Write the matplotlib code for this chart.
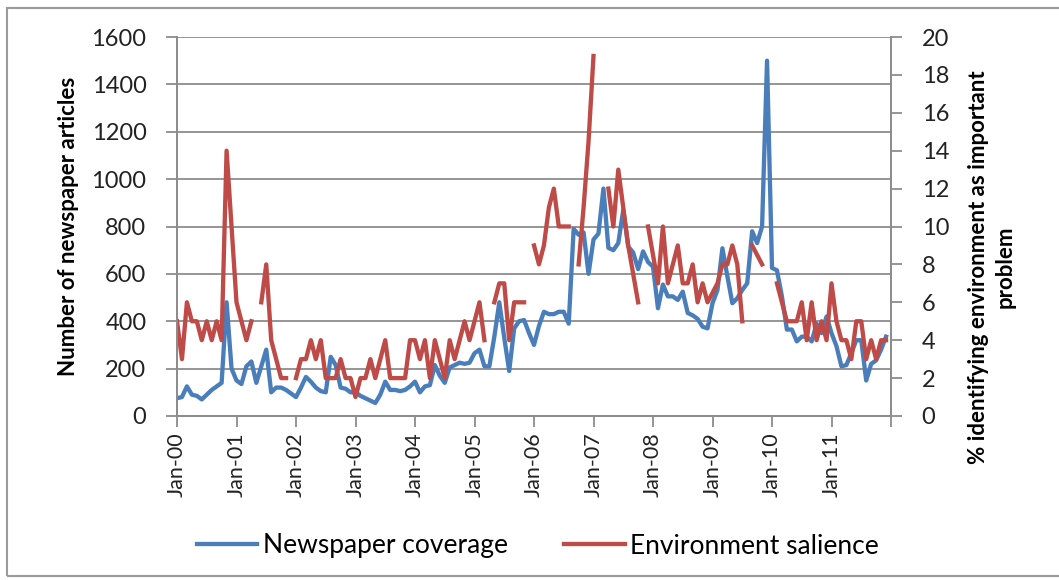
import numpy as np
import matplotlib.pyplot as plt
from matplotlib.lines import Line2D

nan = np.nan

# monthly counts of newspaper articles, Jan 2000 - Dec 2011
coverage = [
    75, 80, 125, 90, 85, 70, 90, 110, 125, 140, 480, 200,        # 2000
    150, 135, 210, 230, 140, 210, 280, 100, 120, 120, 110, 95,   # 2001
    80, 120, 165, 145, 120, 105, 100, 250, 215, 120, 115, 100,   # 2002
    100, 85, 75, 65, 55, 90, 145, 110, 110, 105, 110, 125,       # 2003
    145, 100, 125, 130, 215, 170, 140, 205, 215, 225, 220, 225,  # 2004
    265, 280, 210, 210, 335, 480, 330, 190, 370, 400, 405, 350,  # 2005
    300, 380, 440, 430, 430, 440, 440, 390, 790, 765, 775, 600,  # 2006
    745, 770, 960, 710, 700, 730, 870, 715, 690, 620, 695, 650,  # 2007
    630, 455, 555, 505, 505, 490, 525, 435, 425, 410, 377, 370,  # 2008
    476, 532, 708, 590, 476, 497, 532, 560, 780, 730, 800, 1500, # 2009
    625, 615, 505, 365, 365, 315, 335, 335, 315, 390, 350, 420,  # 2010
    350, 295, 210, 215, 265, 320, 320, 150, 220, 235, 280, 335,  # 2011
]

# % naming the environment as most important problem (gaps = no poll)
salience = [
    5, 3, 6, 5, 5, 4, 5, 4, 5, 4, 14, 10,
    6, 5, 4, 5, nan, 6, 8, 4, 3, 2, 2, nan,
    2, 3, 3, 4, 3, 4, 2, 2, 2, 3, 2, 2,
    1, 2, 2, 3, 2, 3, 4, 2, 2, 2, 2, 4,
    4, 3, 4, 2, 4, 3, 2, 4, 3, 4, 5, 4,
    5, 6, 4, nan, 6, 7, 7, 4, 6, 6, 6, nan,
    9, 8, 9, 11, 12, 10, 10, 10, nan, 8, 11, 14.5,
    19, nan, nan, 12, 10, 13, 11, 9, 7.5, 6, nan, 10,
    8.5, 7, 10, 7, 8, 9, 7, 7, 8, 6, 7, 6,
    6.5, 7, 8, 8, 9, 8, 5, nan, 9, 8.5, 8, nan,
    nan, 7, 6, 5, 5, 5, 6, 4, 6, 4, 5, 4,
    7, 5, 4, 4, 3, 5, 5, 3, 4, 3, 4, 4,
]

year_labels = ['Jan-%02d' % y for y in range(12)]

blue = '#4a7ebb'
red = '#be4b48'
grey = '#8c8c8c'

plt.rcParams['font.family'] = ['Lato', 'DejaVu Sans']

fig = plt.figure(figsize=(10.59, 5.80), dpi=100)
ax = fig.add_axes([177/1059, 1 - 416/580, (891 - 177)/1059, (416 - 37)/580])
ax2 = ax.twinx()

months = np.arange(len(coverage))
ax.plot(months, coverage, color=blue, lw=3.1, solid_joinstyle='round')
ax2.plot(months, salience, color=red, lw=3.1, solid_joinstyle='round')

ax.set_xlim(0, 144)
ax.set_ylim(0, 1600)
ax2.set_ylim(0, 20)

ax.set_yticks(np.arange(0, 1601, 200))
ax2.set_yticks(np.arange(0, 21, 2))
ax.set_xticks(np.arange(0, 145, 12))
ax.set_xticklabels(year_labels + [''], rotation=90)

ax.grid(axis='y', color=grey, lw=1.3)
ax.set_axisbelow(True)

for a in (ax, ax2):
    for side in a.spines:
        a.spines[side].set_color(grey)
        a.spines[side].set_linewidth(1.3)
    a.spines['top'].set_visible(False)
    a.tick_params(colors=grey, width=1.3, length=8, labelsize=17,
                  labelcolor='#222222')
ax.tick_params(axis='y', pad=14)
ax.tick_params(axis='x', pad=4, labelsize=15.5)
ax2.tick_params(axis='y', pad=14)

ax.set_ylabel('Number of newspaper articles', fontsize=16, fontweight='bold',
              labelpad=9)
fig.text(992/1059, 1 - 267/580, '% identifying environment as important\nproblem',
         rotation=90, ha='center', va='center', multialignment='center',
         fontsize=16, fontweight='bold', linespacing=1.35)

handles = [Line2D([], [], color=blue, lw=3.1), Line2D([], [], color=red, lw=3.1)]
fig.legend(handles, ['Newspaper coverage', 'Environment salience'],
           loc='center', bbox_to_anchor=(538/1059, 1 - 546/580), ncol=2,
           frameon=False, fontsize=19, handlelength=2.3, handletextpad=0.2,
           columnspacing=2.15)

# outer chart border
fig.patches.append(plt.Rectangle((7/1059, 4/580), 1.2, 1 - 12/580,
                                 transform=fig.transFigure, fill=False,
                                 edgecolor='#9a9a9a', lw=1.5))

fig.savefig('out.png', dpi=100)
